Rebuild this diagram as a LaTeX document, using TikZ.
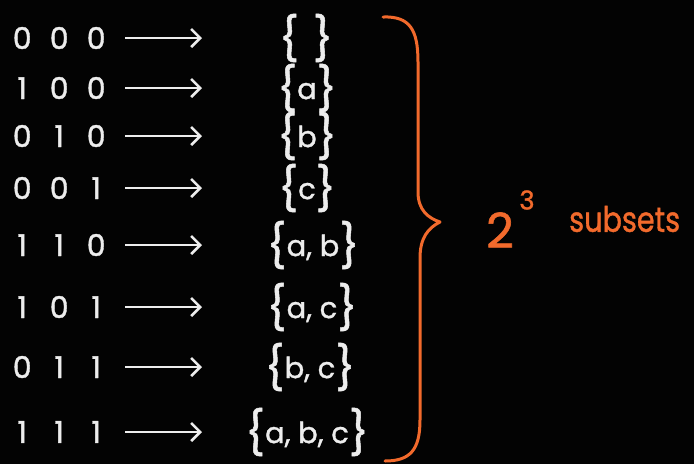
\documentclass[tikz,border=0pt]{standalone}
\usepackage{fontspec}
\setmainfont{Poppins}[FakeBold=1.2]
\usetikzlibrary{arrows.meta}
\definecolor{Board}{HTML}{030303}
\definecolor{Chalk}{HTML}{EDEDED}
\definecolor{Marker}{HTML}{F26A2C}
\newcommand\onebit[1]{\makebox[16pt]{#1}}
\newcommand\bitrow[3]{\onebit{#1}\hspace{21pt}\onebit{#2}\hspace{21pt}\onebit{#3}}
\newcommand\bigcurl[1]{\raisebox{-5pt}{\fontsize{43}{43}\selectfont#1}}
\newcommand\curly[1]{\bigcurl{\{}#1\bigcurl{\}}}

\begin{document}
\begin{tikzpicture}[x=1pt,y=-1pt,
    bits/.style={anchor=west,inner sep=0pt,text=Chalk,font=\fontsize{30}{34}\selectfont},
    subset/.style={inner sep=0pt,text=Chalk,font=\fontsize{29}{32}\selectfont},
    link/.style={draw=Chalk,line width=2.6pt,shorten <=21pt,-{Straight Barb[length=9pt,width=18pt]}},
    count/.style={text=Marker,inner sep=0pt}]
    \fill[Board] (0,0) rectangle (694,464);

    \node[bits] (r0) at (14,38) {\bitrow{0}{0}{0}};
    \coordinate (e0) at (202,38);
    \draw[link] (r0) -- (e0);
    \node[subset] (s0) at (306,38) {\curly{\hspace{14pt}}};

    \node[bits] (r1) at (14,88) {\bitrow{1}{0}{0}};
    \coordinate (e1) at (202,88);
    \draw[link] (r1) -- (e1);
    \node[subset] (s1) at (307,88) {\curly{a}};

    \node[bits] (r2) at (14,136) {\bitrow{0}{1}{0}};
    \coordinate (e2) at (202,136);
    \draw[link] (r2) -- (e2);
    \node[subset] (s2) at (307,136) {\curly{b}};

    \node[bits] (r3) at (14,188) {\bitrow{0}{0}{1}};
    \coordinate (e3) at (202,188);
    \draw[link] (r3) -- (e3);
    \node[subset] (s3) at (307,188) {\curly{c}};

    \node[bits] (r4) at (14,245) {\bitrow{1}{1}{0}};
    \coordinate (e4) at (202,245);
    \draw[link] (r4) -- (e4);
    \node[subset] (s4) at (313,245) {\curly{a, b}};

    \node[bits] (r5) at (14,307) {\bitrow{1}{0}{1}};
    \coordinate (e5) at (202,307);
    \draw[link] (r5) -- (e5);
    \node[subset] (s5) at (312,307) {\curly{a, c}};

    \node[bits] (r6) at (14,367) {\bitrow{0}{1}{1}};
    \coordinate (e6) at (202,367);
    \draw[link] (r6) -- (e6);
    \node[subset] (s6) at (310,367) {\curly{b, c}};

    \node[bits] (r7) at (14,432) {\bitrow{1}{1}{1}};
    \coordinate (e7) at (202,432);
    \draw[link] (r7) -- (e7);
    \node[subset] (s7) at (307,432) {\curly{a, b, c}};

    % the orange brace
    \draw[Marker,line width=3pt,line cap=round,line join=round]
      (383,17) .. controls (410,16) and (418,30) .. (418,62) -- (418,192)
      .. controls (418,210) and (428,218) .. (440,222)
      .. controls (428,228) and (420,238) .. (420,258) -- (420,420)
      .. controls (420,450) and (410,461) .. (385,461);

    \node[count,font=\fontsize{48}{52}\selectfont] (two) at (500,230) {2};
    \node[count,font=\fontsize{26}{28}\selectfont] (three) at (527,200) {3};
    \node[count,anchor=west,font=\fontsize{35}{38}\selectfont] (subs) at (569,219) {\scalebox{0.82}[1]{subsets}};
  \end{tikzpicture}
\end{document}
